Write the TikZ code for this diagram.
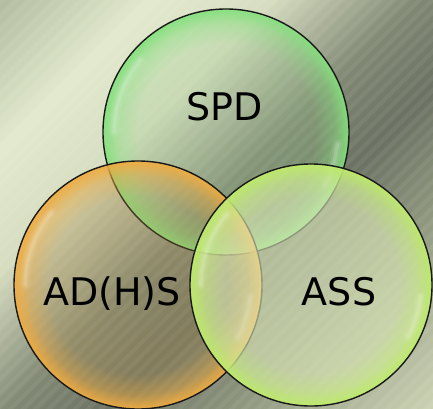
\documentclass[tikz,border=0pt]{standalone}
\usepackage{fontspec}
\setmainfont{DejaVu Sans}
\usetikzlibrary{fadings}
\definecolor{bgcorner}{HTML}{B2BC9F}
\definecolor{bglight}{HTML}{E2E9CD}
\definecolor{bgpale}{HTML}{D6DDC0}
\definecolor{bgmid}{HTML}{808773}
\definecolor{bgdark}{HTML}{6C7263}
\definecolor{bgsoft}{HTML}{8E967E}
\definecolor{bgfar}{HTML}{CDD4B5}
\definecolor{spdcore}{HTML}{A8C898}
\definecolor{spdrim}{HTML}{84E07C}
\definecolor{adhscore}{HTML}{A08850}
\definecolor{adhsrim}{HTML}{F0AC40}
\definecolor{asscore}{HTML}{EAF0D0}
\definecolor{assrim}{HTML}{BCEA68}
% rim of a bubble: clear in the middle, dense at the edge
\pgfdeclareradialshading{bubblerim}{\pgfpointorigin}{color(0bp)=(pgftransparent!94); color(18bp)=(pgftransparent!88); color(22bp)=(pgftransparent!55); color(24.5bp)=(pgftransparent!12); color(25bp)=(pgftransparent!10); color(50bp)=(pgftransparent!10)}
\pgfdeclarefading{bubblefade}{\pgfuseshading{bubblerim}}
\tikzset{
  bubble/.style={draw=black!90, line width=1.4pt},
  gloss/.style={draw=white, line cap=round},
  settext/.style={font=\fontsize{38}{45}\selectfont, text=black, inner sep=0pt, anchor=base}
}
% diagonal colour bands from s=#1 to s=#2 (x-y=s), colour #3 to #4
\newcommand\bgsegment[4]{%
  \pgfmathtruncatemacro\bgn{(#2-#1)/4}
  \foreach \k in {0,...,\bgn} {
    \pgfmathsetmacro\s{#1+4*\k}
    \pgfmathsetmacro\p{100-100*\k/\bgn}
    \colorlet{bandcol}{#3!\p!#4}
    \fill[bandcol] (\s,0) -- (\s+4.6,0) -- (0,-\s-4.6) -- (0,-\s) -- cycle;
  }}

\begin{document}
\begin{tikzpicture}[x=1pt,y=1pt]
  \useasboundingbox (0,0) rectangle (433,-408);
  \clip (0,0) rectangle (433,-408);
  % background
  \bgsegment{0}{150}{bgcorner}{bglight}
  \bgsegment{150}{270}{bglight}{bgpale}
  \bgsegment{270}{420}{bgpale}{bgmid}
  \bgsegment{420}{520}{bgmid}{bgdark}
  \bgsegment{520}{640}{bgdark}{bgsoft}
  \bgsegment{640}{844}{bgsoft}{bgfar}
  \foreach \s in {0,13,...,840}
    \fill[white, opacity=0.06] (\s,0) -- (\s+6,0) -- (0,-\s-6) -- (0,-\s) -- cycle;

  \coordinate (spd) at (226,-132);
  \coordinate (adhs) at (138,-285);
  \coordinate (ass) at (311,-285);

  % the three bubbles
  \foreach \b/\core/\rim/\r/\op in {spd/spdcore/spdrim/123/0.10, adhs/adhscore/adhsrim/124/0.16, ass/asscore/assrim/121/0.55} {
    \fill[\core, opacity=\op] (\b) circle[radius=\r];
    \fill[\rim, path fading=bubblefade] (\b) circle[radius=\r];
    \foreach \w/\o in {11/0.06, 7/0.08, 3.5/0.14} {
      \draw[gloss, line width=\w pt, opacity=\o] ([shift={(\b)}]140:{0.91*\r}) arc[start angle=140, end angle=180, radius=0.91*\r];
      \draw[gloss, line width=\w pt, opacity=\o] ([shift={(\b)}]-28:{0.91*\r}) arc[start angle=-28, end angle=-6, radius=0.91*\r];
    }
    \draw[bubble] (\b) circle[radius=\r];
  }

  \node[settext] (spdtext) at (225,-120) {SPD};
  \node[settext] (adhstext) at (112,-305) {AD(H)S};
  \node[settext] (asstext) at (339,-305) {ASS};
\end{tikzpicture}
\end{document}
